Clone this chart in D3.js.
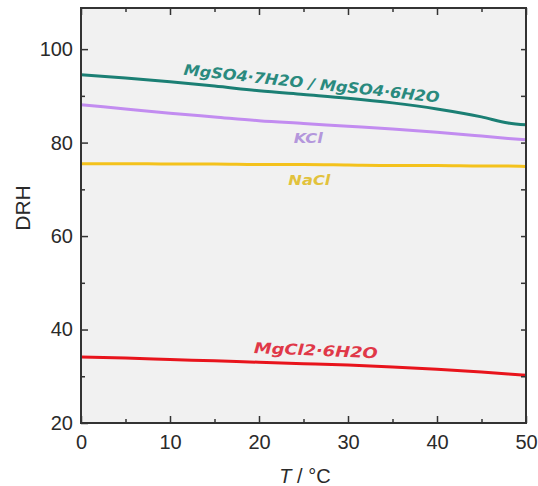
<!DOCTYPE html>
<html>
<head>
<meta charset="utf-8">
<script src="https://cdn.jsdelivr.net/npm/d3@7"></script>
<style>
body { margin: 0; background: #fff; }
svg { display: block; }
</style>
</head>
<body>
<svg id="chart" width="538" height="486"></svg>
<script>
var temps = [0, 5, 10, 15, 20, 25, 30, 35, 40, 45, 48, 50];
var mgso4 = [94.5, 93.8, 93.0, 92.1, 91.1, 90.3, 89.5, 88.5, 87.2, 85.5, 84.2, 83.8];
var kcl = [88.1, 87.2, 86.3, 85.5, 84.7, 84.1, 83.5, 82.9, 82.2, 81.4, 80.9, 80.6];
var nacl = [75.5, 75.5, 75.4, 75.4, 75.3, 75.3, 75.2, 75.1, 75.1, 75.0, 75.0, 74.9];
var mgcl2 = [34.1, 33.9, 33.6, 33.3, 33.0, 32.7, 32.4, 32.0, 31.5, 30.9, 30.5, 30.2];
var xTicks = [0, 10, 20, 30, 40, 50];
var yTicks = [20, 40, 60, 80, 100];

var margin = { left: 81, right: 12, top: 8, bottom: 63 };
var W = 538, H = 486;

var svg = d3.select("#chart");

var x = d3.scaleLinear().domain([0, 50]).range([margin.left, W - margin.right]);
var y = d3.scaleLinear().domain([20, 108.8]).range([H - margin.bottom, margin.top]);

// plot background
svg.append("rect")
	.attr("x", x(0)).attr("y", y(108.8))
	.attr("width", x(50) - x(0)).attr("height", y(20) - y(108.8))
	.attr("fill", "#f1f1f1");

var series = [
	{ name: "MgSO4·7H2O / MgSO4·6H2O", values: mgso4, color: "#1b7f74", text: "#2a8a7e" },
	{ name: "KCl", values: kcl, color: "#c28cf0", text: "#b497dc" },
	{ name: "NaCl", values: nacl, color: "#f4c21c", text: "#e2c23c" },
	{ name: "MgCl2·6H2O", values: mgcl2, color: "#e8141c", text: "#e03848" }
];

var line = d3.line()
	.x(function(d) { return x(d[0]); })
	.y(function(d) { return y(d[1]); })
	.curve(d3.curveMonotoneX);

svg.selectAll("path.series").data(series).enter().append("path")
	.attr("class", "series")
	.attr("fill", "none")
	.attr("stroke", function(d) { return d.color; })
	.attr("stroke-width", 3)
	.attr("d", function(d) {
		return line(temps.map(function(t, i) { return [t, d.values[i]]; }));
	});

// axes, ticks pointing inward
var tickFont = "Liberation Sans, Arial, sans-serif";

var xAxisB = d3.axisBottom(x).tickValues(xTicks).tickSizeInner(-7).tickSizeOuter(0).tickPadding(12);
var xMinorB = d3.axisBottom(x).tickValues([5, 15, 25, 35, 45]).tickSizeInner(-4).tickSizeOuter(0).tickFormat("");
var xAxisT = d3.axisTop(x).tickValues(xTicks).tickSizeInner(-7).tickSizeOuter(0).tickFormat("");
var xMinorT = d3.axisTop(x).tickValues([5, 15, 25, 35, 45]).tickSizeInner(-4).tickSizeOuter(0).tickFormat("");
var yAxisL = d3.axisLeft(y).tickValues(yTicks).tickSizeInner(-7).tickSizeOuter(0).tickPadding(8);
var yMinorL = d3.axisLeft(y).tickValues([30, 50, 70, 90]).tickSizeInner(-4).tickSizeOuter(0).tickFormat("");
var yAxisR = d3.axisRight(y).tickValues([30, 40, 50, 60, 70, 80, 90, 100]).tickSizeInner(-5).tickSizeOuter(0).tickFormat("");

function drawAxis(gen, tx, ty) {
	var g = svg.append("g").attr("transform", "translate(" + tx + "," + ty + ")").call(gen);
	g.select(".domain").remove();
	g.selectAll("line").attr("stroke", "#333").attr("stroke-width", 1.5);
	g.selectAll("text").attr("fill", "#2a2a2a").style("font-family", tickFont).style("font-size", "20px");
	return g;
}

drawAxis(xAxisB, 0, y(20));
drawAxis(xMinorB, 0, y(20));
drawAxis(xAxisT, 0, y(108.8));
drawAxis(xMinorT, 0, y(108.8));
drawAxis(yAxisL, x(0), 0);
drawAxis(yMinorL, x(0), 0);
drawAxis(yAxisR, x(50), 0);

// frame
svg.append("rect")
	.attr("x", x(0)).attr("y", y(108.8))
	.attr("width", x(50) - x(0)).attr("height", y(20) - y(108.8))
	.attr("fill", "none").attr("stroke", "#333").attr("stroke-width", 2);

// axis titles
svg.append("text")
	.attr("transform", "translate(30,208) rotate(-90)")
	.attr("text-anchor", "middle")
	.attr("fill", "#2a2a2a")
	.style("font-family", tickFont).style("font-size", "21px")
	.text("DRH");

var xt = svg.append("text")
	.attr("x", 305).attr("y", 483)
	.attr("text-anchor", "middle")
	.attr("fill", "#2a2a2a")
	.style("font-family", tickFont).style("font-size", "20px");
xt.append("tspan").style("font-style", "italic").text("T");
xt.append("tspan").text(" / °C");

// series labels
var labelFont = "DejaVu Sans, Verdana, sans-serif";
var labels = [
	{ s: 0, t: 11.5, v: 94.5, angle: 6.2, len: 257, size: 15 },
	{ s: 1, t: 23.9, v: 79.9, angle: 0, len: 29, size: 14 },
	{ s: 2, t: 23.3, v: 70.9, angle: 0, len: 42, size: 14 },
	{ s: 3, t: 19.4, v: 35.0, angle: 2.5, len: 124, size: 15 }
];

svg.selectAll("text.lab").data(labels).enter().append("text")
	.attr("class", "lab")
	.attr("transform", function(d) {
		return "translate(" + x(d.t) + "," + y(d.v) + ") rotate(" + d.angle + ")";
	})
	.attr("textLength", function(d) { return d.len; })
	.attr("lengthAdjust", "spacingAndGlyphs")
	.attr("fill", function(d) { return series[d.s].text; })
	.style("font-family", labelFont)
	.style("font-weight", "bold")
	.style("font-style", "italic")
	.style("font-size", function(d) { return d.size + "px"; })
	.text(function(d) { return series[d.s].name; });
</script>
</body>
</html>
